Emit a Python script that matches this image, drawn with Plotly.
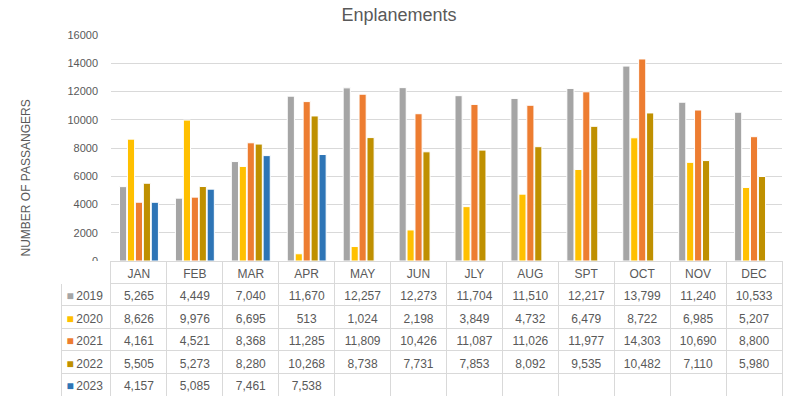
import plotly.graph_objects as go

months = ["JAN", "FEB", "MAR", "APR", "MAY", "JUN", "JLY", "AUG", "SPT", "OCT", "NOV", "DEC"]
years = ["2019", "2020", "2021", "2022", "2023"]
v2019 = [5265, 4449, 7040, 11670, 12257, 12273, 11704, 11510, 12217, 13799, 11240, 10533]
v2020 = [8626, 9976, 6695, 513, 1024, 2198, 3849, 4732, 6479, 8722, 6985, 5207]
v2021 = [4161, 4521, 8368, 11285, 11809, 10426, 11087, 11026, 11977, 14303, 10690, 8800]
v2022 = [5505, 5273, 8280, 10268, 8738, 7731, 7853, 8092, 9535, 10482, 7110, 5980]
v2023 = [4157, 5085, 7461, 7538, None, None, None, None, None, None, None, None]
series = [v2019, v2020, v2021, v2022, v2023]
colors = ["#A5A5A5", "#FFC000", "#ED7D31", "#BF9000", "#2E75B6"]

FONT = "Liberation Sans"
GRAY = "#595959"
LINE = "#D9D9D9"
CLEAR = "rgba(0,0,0,0)"
TABLE_Y = [0, 135 / 361]

fig = go.Figure()
for yr, vals, col in zip(years, series, colors):
    fig.add_trace(go.Bar(
        x=months, y=vals, name=yr,
        marker=dict(color=col, line=dict(color="white", width=1)),
        xaxis="x", yaxis="y", showlegend=False,
    ))

# data table below the chart
cols = [years]
for i in range(len(months)):
    cols.append([("" if s[i] is None else f"{s[i]:,}") for s in series])

fig.add_trace(go.Table(
    domain=dict(x=[0, 1], y=TABLE_Y),
    columnwidth=[50] + [56] * 12,
    header=dict(
        values=[""] + months,
        height=22,
        fill=dict(color="white"),
        line=dict(color=["white"] + [LINE] * 12, width=1),
        align="center",
        font=dict(family=FONT, size=12, color=GRAY),
    ),
    cells=dict(
        values=cols,
        height=22.6,
        fill=dict(color="white"),
        line=dict(color=LINE, width=1),
        align=["right"] + ["center"] * 12,
        font=dict(family=FONT, size=12, color=GRAY),
    ),
))

# legend keys (coloured squares) overlaid in the first column
fig.add_trace(go.Table(
    domain=dict(x=[0, 18 / 721], y=TABLE_Y),
    columnwidth=[1],
    header=dict(values=[""], height=22, fill=dict(color=CLEAR),
                line=dict(color=CLEAR, width=0), font=dict(size=12, color=CLEAR)),
    cells=dict(
        values=[["■"] * len(years)],
        height=22.6,
        fill=dict(color=CLEAR),
        line=dict(color=CLEAR, width=0),
        align="center",
        font=dict(family=FONT, size=12, color=[colors]),
    ),
))

fig.update_layout(
    width=798, height=402,
    margin=dict(l=61, r=16, t=35, b=6, autoexpand=False),
    paper_bgcolor="white", plot_bgcolor="white",
    barmode="group", bargap=0.29, bargroupgap=0.1,
    title=dict(text="Enplanements", x=0.5, xref="container", xanchor="center",
               y=1 - 15 / 402, yref="container", yanchor="middle",
               font=dict(family=FONT, size=18, color=GRAY)),
    xaxis=dict(domain=[50 / 721, 1], showticklabels=False, showgrid=False,
               showline=True, linecolor=LINE, linewidth=1, ticks="", fixedrange=True),
    yaxis=dict(domain=[135 / 361, 1], range=[0, 16000], dtick=2000, tickformat="d",
               showgrid=True, gridcolor=LINE, gridwidth=1, zeroline=False,
               showline=False, ticks="", ticklabelstandoff=12,
               tickfont=dict(family=FONT, size=11, color=GRAY)),
    annotations=[dict(text="NUMBER OF PASSANGERS", textangle=-90, showarrow=False,
                      xref="paper", yref="paper", x=(25 - 61) / 721, y=(396 - 178.5) / 361,
                      xanchor="center", yanchor="middle",
                      font=dict(family=FONT, size=12, color=GRAY))],
)

fig.write_html("out.html", config={"displayModeBar": False},
               post_script="document.body.style.margin='0';")
